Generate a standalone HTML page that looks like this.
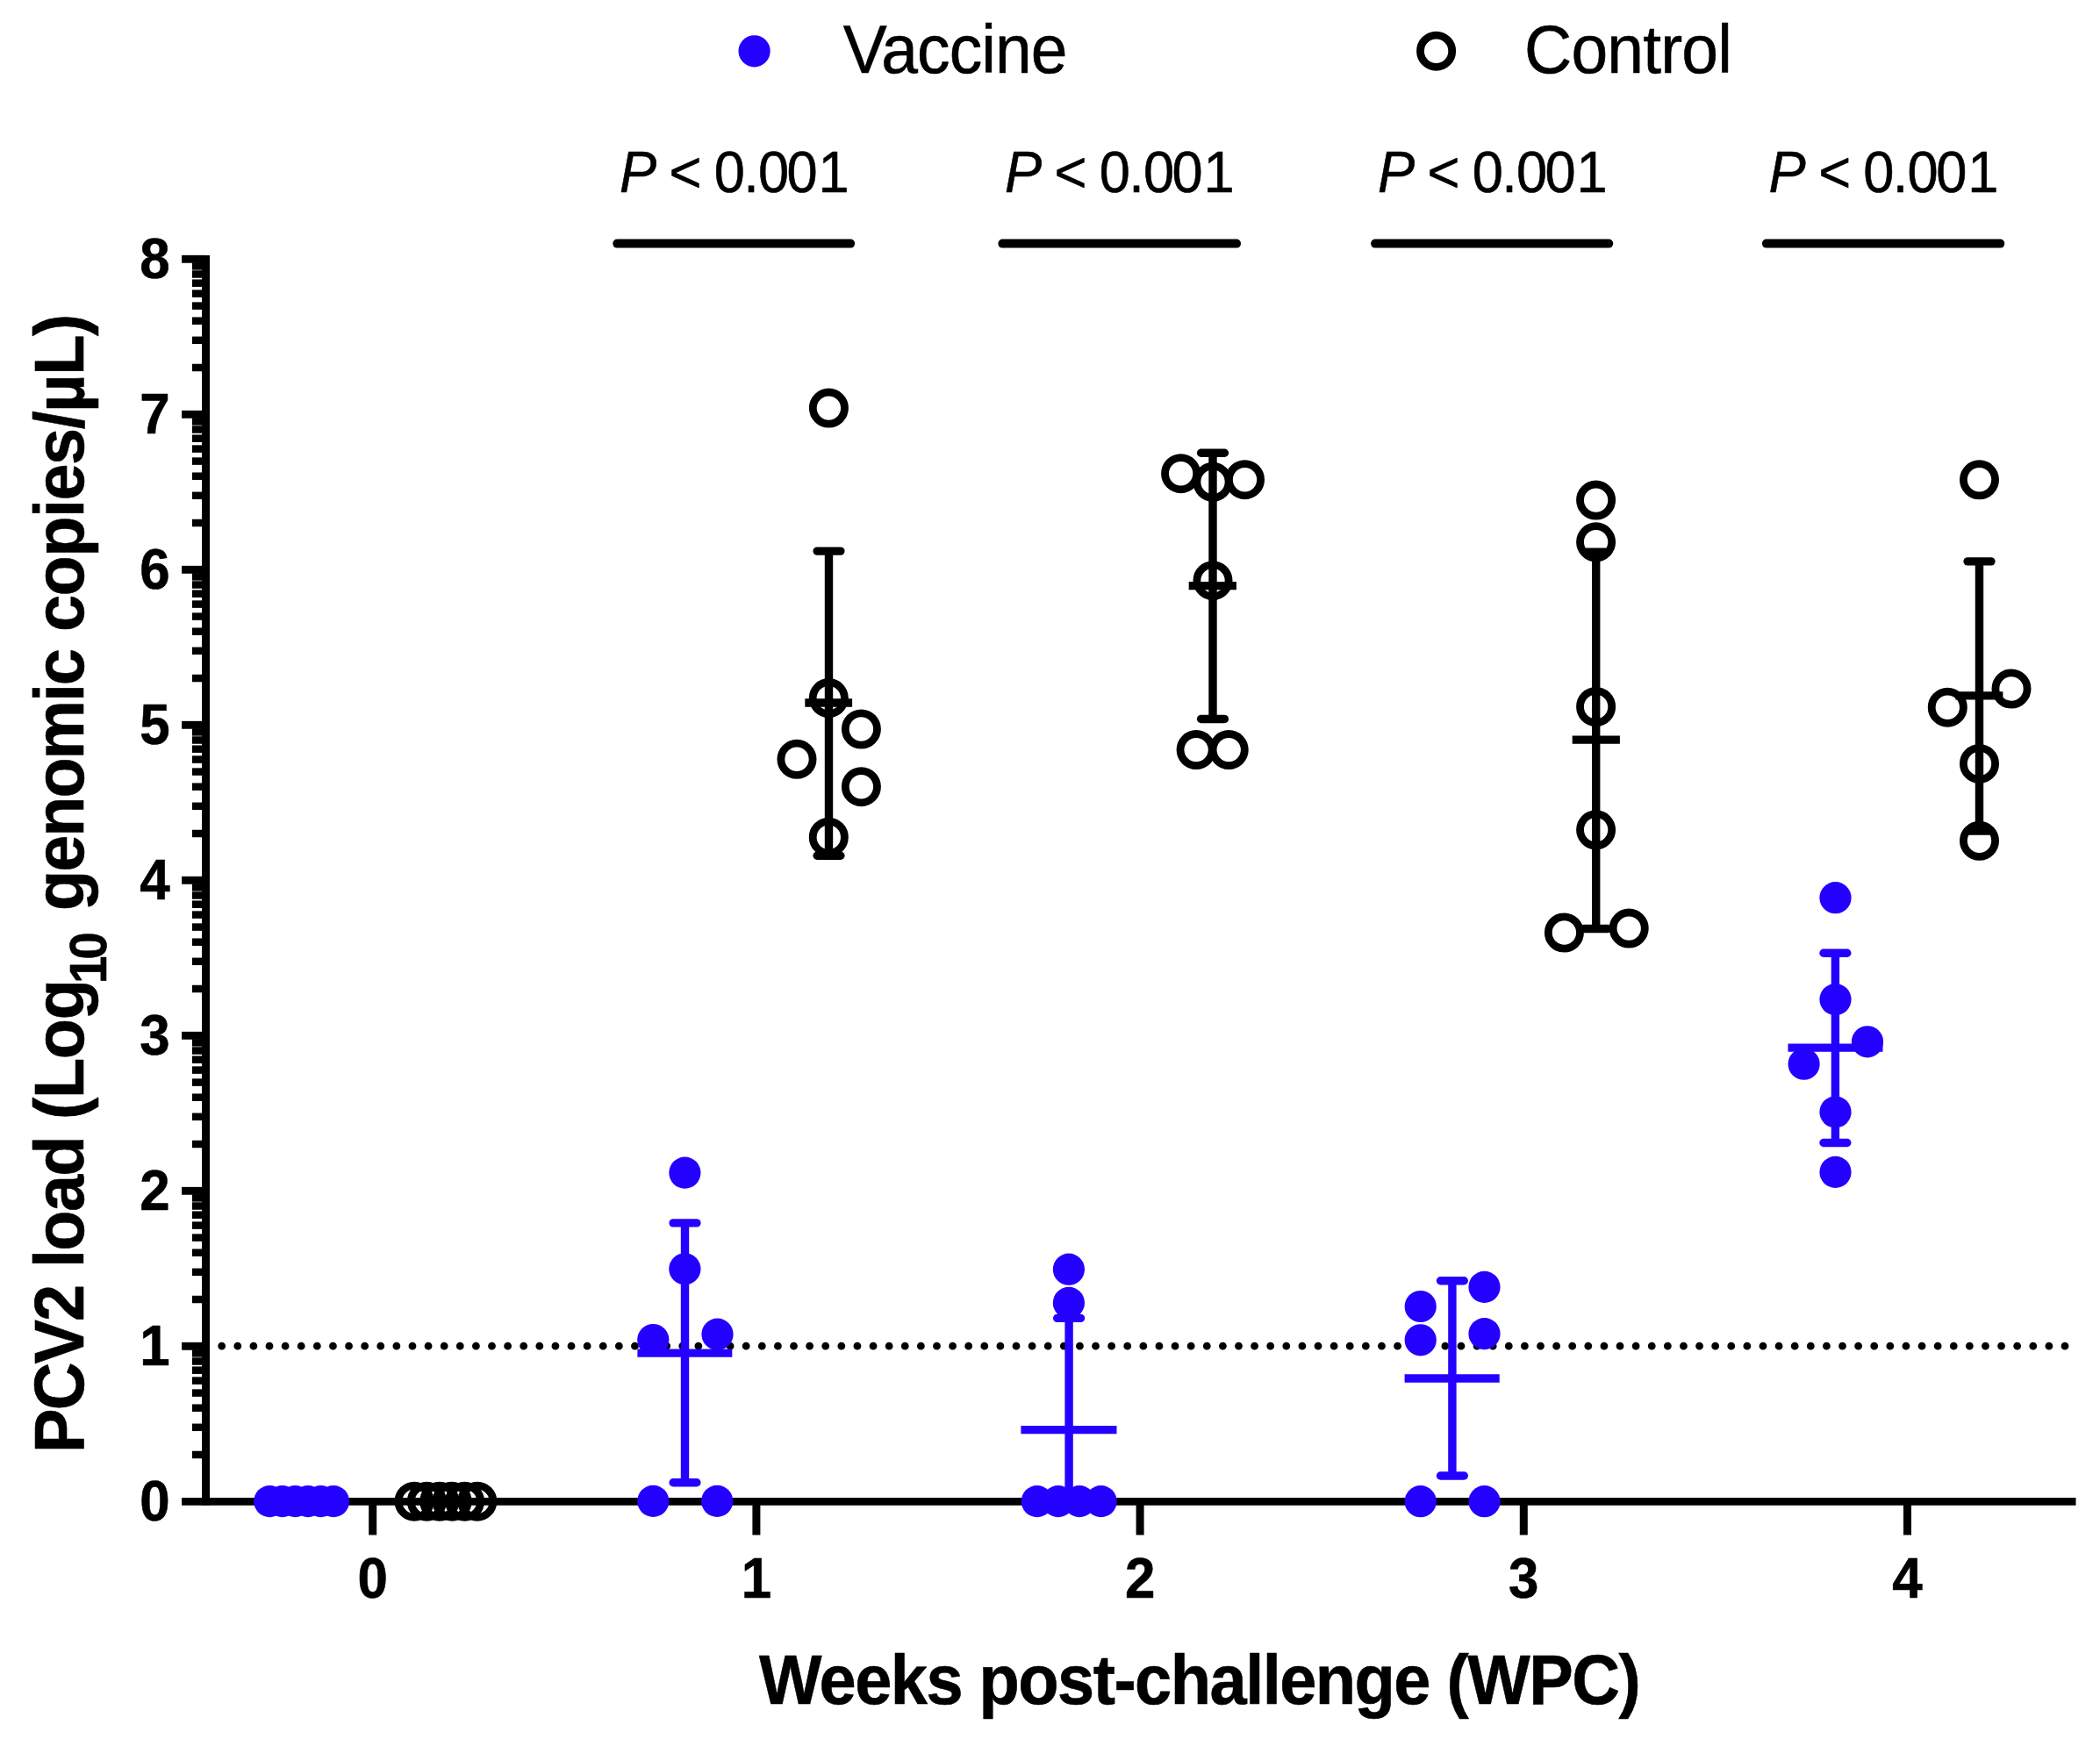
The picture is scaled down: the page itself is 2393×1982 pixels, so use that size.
<!DOCTYPE html>
<html lang="en"><head><meta charset="utf-8"><title>PCV2 load by weeks post-challenge</title>
<style>html,body{margin:0;padding:0;background:#fff}svg{display:block}text{font-family:"Liberation Sans",Arial,Helvetica,sans-serif;fill:#000;stroke:#000;stroke-width:.6px;stroke-linejoin:round}.b{font-weight:bold}</style>
</head><body>
<svg width="2393" height="1982" viewBox="0 0 2393 1982">
<rect width="2393" height="1982" fill="#fff"/>
<line x1="252.7" y1="1534.2" x2="2353.2" y2="1534.2" stroke="#000" stroke-width="8.8" stroke-linecap="round" stroke-dasharray="0 18.106"/>
<g stroke="#000" fill="none">
<line x1="234.5" y1="291.0" x2="234.5" y2="1715.6" stroke-width="9"/>
<line x1="207.1" y1="1711.3" x2="2365.5" y2="1711.3" stroke-width="8.8"/>
<line x1="207.1" y1="1534.3" x2="234.5" y2="1534.3" stroke-width="8.9"/>
<line x1="207.1" y1="1357.3" x2="234.5" y2="1357.3" stroke-width="8.9"/>
<line x1="207.1" y1="1180.3" x2="234.5" y2="1180.3" stroke-width="8.9"/>
<line x1="207.1" y1="1003.3" x2="234.5" y2="1003.3" stroke-width="8.9"/>
<line x1="207.1" y1="826.3" x2="234.5" y2="826.3" stroke-width="8.9"/>
<line x1="207.1" y1="649.3" x2="234.5" y2="649.3" stroke-width="8.9"/>
<line x1="207.1" y1="472.3" x2="234.5" y2="472.3" stroke-width="8.9"/>
<line x1="207.1" y1="295.3" x2="234.5" y2="295.3" stroke-width="8.9"/>
<line x1="218.9" y1="1658.0" x2="234.5" y2="1658.0" stroke-width="8.5"/>
<line x1="218.9" y1="1626.8" x2="234.5" y2="1626.8" stroke-width="8.5"/>
<line x1="218.9" y1="1604.7" x2="234.5" y2="1604.7" stroke-width="8.5"/>
<line x1="218.9" y1="1587.6" x2="234.5" y2="1587.6" stroke-width="8.5"/>
<line x1="218.9" y1="1573.6" x2="234.5" y2="1573.6" stroke-width="8.5"/>
<line x1="218.9" y1="1561.7" x2="234.5" y2="1561.7" stroke-width="8.5"/>
<line x1="218.9" y1="1551.5" x2="234.5" y2="1551.5" stroke-width="8.5"/>
<line x1="218.9" y1="1542.4" x2="234.5" y2="1542.4" stroke-width="8.5"/>
<line x1="218.9" y1="1481.0" x2="234.5" y2="1481.0" stroke-width="8.5"/>
<line x1="218.9" y1="1449.8" x2="234.5" y2="1449.8" stroke-width="8.5"/>
<line x1="218.9" y1="1427.7" x2="234.5" y2="1427.7" stroke-width="8.5"/>
<line x1="218.9" y1="1410.6" x2="234.5" y2="1410.6" stroke-width="8.5"/>
<line x1="218.9" y1="1396.6" x2="234.5" y2="1396.6" stroke-width="8.5"/>
<line x1="218.9" y1="1384.7" x2="234.5" y2="1384.7" stroke-width="8.5"/>
<line x1="218.9" y1="1374.5" x2="234.5" y2="1374.5" stroke-width="8.5"/>
<line x1="218.9" y1="1365.4" x2="234.5" y2="1365.4" stroke-width="8.5"/>
<line x1="218.9" y1="1304.0" x2="234.5" y2="1304.0" stroke-width="8.5"/>
<line x1="218.9" y1="1272.8" x2="234.5" y2="1272.8" stroke-width="8.5"/>
<line x1="218.9" y1="1250.7" x2="234.5" y2="1250.7" stroke-width="8.5"/>
<line x1="218.9" y1="1233.6" x2="234.5" y2="1233.6" stroke-width="8.5"/>
<line x1="218.9" y1="1219.6" x2="234.5" y2="1219.6" stroke-width="8.5"/>
<line x1="218.9" y1="1207.7" x2="234.5" y2="1207.7" stroke-width="8.5"/>
<line x1="218.9" y1="1197.5" x2="234.5" y2="1197.5" stroke-width="8.5"/>
<line x1="218.9" y1="1188.4" x2="234.5" y2="1188.4" stroke-width="8.5"/>
<line x1="218.9" y1="1127.0" x2="234.5" y2="1127.0" stroke-width="8.5"/>
<line x1="218.9" y1="1095.8" x2="234.5" y2="1095.8" stroke-width="8.5"/>
<line x1="218.9" y1="1073.7" x2="234.5" y2="1073.7" stroke-width="8.5"/>
<line x1="218.9" y1="1056.6" x2="234.5" y2="1056.6" stroke-width="8.5"/>
<line x1="218.9" y1="1042.6" x2="234.5" y2="1042.6" stroke-width="8.5"/>
<line x1="218.9" y1="1030.7" x2="234.5" y2="1030.7" stroke-width="8.5"/>
<line x1="218.9" y1="1020.5" x2="234.5" y2="1020.5" stroke-width="8.5"/>
<line x1="218.9" y1="1011.4" x2="234.5" y2="1011.4" stroke-width="8.5"/>
<line x1="218.9" y1="950.0" x2="234.5" y2="950.0" stroke-width="8.5"/>
<line x1="218.9" y1="918.8" x2="234.5" y2="918.8" stroke-width="8.5"/>
<line x1="218.9" y1="896.7" x2="234.5" y2="896.7" stroke-width="8.5"/>
<line x1="218.9" y1="879.6" x2="234.5" y2="879.6" stroke-width="8.5"/>
<line x1="218.9" y1="865.6" x2="234.5" y2="865.6" stroke-width="8.5"/>
<line x1="218.9" y1="853.7" x2="234.5" y2="853.7" stroke-width="8.5"/>
<line x1="218.9" y1="843.5" x2="234.5" y2="843.5" stroke-width="8.5"/>
<line x1="218.9" y1="834.4" x2="234.5" y2="834.4" stroke-width="8.5"/>
<line x1="218.9" y1="773.0" x2="234.5" y2="773.0" stroke-width="8.5"/>
<line x1="218.9" y1="741.8" x2="234.5" y2="741.8" stroke-width="8.5"/>
<line x1="218.9" y1="719.7" x2="234.5" y2="719.7" stroke-width="8.5"/>
<line x1="218.9" y1="702.6" x2="234.5" y2="702.6" stroke-width="8.5"/>
<line x1="218.9" y1="688.6" x2="234.5" y2="688.6" stroke-width="8.5"/>
<line x1="218.9" y1="676.7" x2="234.5" y2="676.7" stroke-width="8.5"/>
<line x1="218.9" y1="666.5" x2="234.5" y2="666.5" stroke-width="8.5"/>
<line x1="218.9" y1="657.4" x2="234.5" y2="657.4" stroke-width="8.5"/>
<line x1="218.9" y1="596.0" x2="234.5" y2="596.0" stroke-width="8.5"/>
<line x1="218.9" y1="564.8" x2="234.5" y2="564.8" stroke-width="8.5"/>
<line x1="218.9" y1="542.7" x2="234.5" y2="542.7" stroke-width="8.5"/>
<line x1="218.9" y1="525.6" x2="234.5" y2="525.6" stroke-width="8.5"/>
<line x1="218.9" y1="511.6" x2="234.5" y2="511.6" stroke-width="8.5"/>
<line x1="218.9" y1="499.7" x2="234.5" y2="499.7" stroke-width="8.5"/>
<line x1="218.9" y1="489.5" x2="234.5" y2="489.5" stroke-width="8.5"/>
<line x1="218.9" y1="480.4" x2="234.5" y2="480.4" stroke-width="8.5"/>
<line x1="218.9" y1="419.0" x2="234.5" y2="419.0" stroke-width="8.5"/>
<line x1="218.9" y1="387.8" x2="234.5" y2="387.8" stroke-width="8.5"/>
<line x1="218.9" y1="365.7" x2="234.5" y2="365.7" stroke-width="8.5"/>
<line x1="218.9" y1="348.6" x2="234.5" y2="348.6" stroke-width="8.5"/>
<line x1="218.9" y1="334.6" x2="234.5" y2="334.6" stroke-width="8.5"/>
<line x1="218.9" y1="322.7" x2="234.5" y2="322.7" stroke-width="8.5"/>
<line x1="218.9" y1="312.5" x2="234.5" y2="312.5" stroke-width="8.5"/>
<line x1="218.9" y1="303.4" x2="234.5" y2="303.4" stroke-width="8.5"/>
<line x1="424.7" y1="1711.3" x2="424.7" y2="1749.5" stroke-width="9"/>
<line x1="861.9" y1="1711.3" x2="861.9" y2="1749.5" stroke-width="9"/>
<line x1="1299.1" y1="1711.3" x2="1299.1" y2="1749.5" stroke-width="9"/>
<line x1="1736.3" y1="1711.3" x2="1736.3" y2="1749.5" stroke-width="9"/>
<line x1="2173.5" y1="1711.3" x2="2173.5" y2="1749.5" stroke-width="9"/>
</g>
<g class="b" font-size="64.4" text-anchor="end">
<text transform="translate(193.6 1732.6) scale(0.961 1)">0</text>
<text transform="translate(193.6 1555.6) scale(0.961 1)">1</text>
<text transform="translate(193.6 1378.6) scale(0.961 1)">2</text>
<text transform="translate(193.6 1201.6) scale(0.961 1)">3</text>
<text transform="translate(193.6 1024.6) scale(0.961 1)">4</text>
<text transform="translate(193.6 847.6) scale(0.961 1)">5</text>
<text transform="translate(193.6 670.6) scale(0.961 1)">6</text>
<text transform="translate(193.6 493.6) scale(0.961 1)">7</text>
<text transform="translate(193.6 316.6) scale(0.961 1)">8</text>
</g>
<g class="b" font-size="64.4" text-anchor="middle">
<text transform="translate(424.7 1820.8) scale(0.961 1)">0</text>
<text transform="translate(861.9 1820.8) scale(0.961 1)">1</text>
<text transform="translate(1299.1 1820.8) scale(0.961 1)">2</text>
<text transform="translate(1736.3 1820.8) scale(0.961 1)">3</text>
<text transform="translate(2173.5 1820.8) scale(0.961 1)">4</text>
</g>
<text class="b" font-size="78.9" letter-spacing="-1.6" transform="translate(864.9 1941.9) scale(0.961 1)">Weeks post-challenge (WPC)</text>
<text class="b" font-size="78.9" transform="translate(94.6 1655.0) rotate(-90) scale(0.961 1)"><tspan x="-1.04" letter-spacing="-2.0">PCV2</tspan> <tspan x="218.52" letter-spacing="-1.8">load</tspan> <tspan x="394.38" letter-spacing="-1.4">(Log</tspan><tspan x="555.67" font-size="59.3" dy="26.4" letter-spacing="-4.6">10</tspan> <tspan x="642.04" dy="-26.4" letter-spacing="-2.2">genomic</tspan> <tspan x="972.94" letter-spacing="-1.65">copies/µL)</tspan></text>
<circle cx="859.6" cy="58.3" r="18.1" fill="#2400FF"/>
<text font-size="78.05" letter-spacing="-0.94" transform="translate(960.7 83.3) scale(0.961 1)">Vaccine</text>
<circle cx="1636.6" cy="58.2" r="18.1" fill="none" stroke="#000" stroke-width="8.8"/>
<text font-size="78.05" letter-spacing="-0.87" transform="translate(1737.1 83.2) scale(0.961 1)">Control</text>
<line x1="703.3" y1="277.6" x2="969.1" y2="277.6" stroke="#000" stroke-width="10" stroke-linecap="round"/>
<text font-size="65.8" transform="translate(706.0 218.5) scale(0.961 1)" x="0.00 0.00 58.90 0.00 112.07 146.93 164.31 198.34 235.80"><tspan font-style="italic">P</tspan> &lt; 0.001</text>
<line x1="1142.4" y1="277.6" x2="1409.0" y2="277.6" stroke="#000" stroke-width="10" stroke-linecap="round"/>
<text font-size="65.8" transform="translate(1145.0 218.5) scale(0.961 1)" x="0.00 0.00 58.90 0.00 112.07 146.93 164.31 198.34 235.80"><tspan font-style="italic">P</tspan> &lt; 0.001</text>
<line x1="1567.1" y1="277.6" x2="1833.2" y2="277.6" stroke="#000" stroke-width="10" stroke-linecap="round"/>
<text font-size="65.8" transform="translate(1570.0 218.5) scale(0.961 1)" x="0.00 0.00 58.90 0.00 112.07 146.93 164.31 198.34 235.80"><tspan font-style="italic">P</tspan> &lt; 0.001</text>
<line x1="2012.9" y1="277.6" x2="2279.3" y2="277.6" stroke="#000" stroke-width="10" stroke-linecap="round"/>
<text font-size="65.8" transform="translate(2015.6 218.5) scale(0.961 1)" x="0.00 0.00 58.90 0.00 112.07 146.93 164.31 198.34 235.80"><tspan font-style="italic">P</tspan> &lt; 0.001</text>
<g fill="none" stroke="#000" stroke-width="8.8"><circle cx="472.1" cy="1711.2" r="18.1"/><circle cx="486.4" cy="1711.2" r="18.1"/><circle cx="500.8" cy="1711.2" r="18.1"/><circle cx="515.1" cy="1711.2" r="18.1"/><circle cx="529.5" cy="1711.2" r="18.1"/><circle cx="543.8" cy="1711.2" r="18.1"/></g>
<g fill="none" stroke="#000" stroke-width="8.8"><circle cx="944.4" cy="465.1" r="18.1"/><circle cx="944.3" cy="795.6" r="18.1"/><circle cx="981.4" cy="831.0" r="18.1"/><circle cx="908.0" cy="865.3" r="18.1"/><circle cx="981.4" cy="896.7" r="18.1"/><circle cx="944.3" cy="954.2" r="18.1"/></g>
<g stroke="#000" stroke-width="9.4" fill="none"><line x1="944.5" y1="628.1" x2="944.5" y2="975.3"/><line x1="931.1" y1="628.1" x2="957.9" y2="628.1" stroke-linecap="round"/><line x1="931.1" y1="975.3" x2="957.9" y2="975.3" stroke-linecap="round"/><line x1="917.3" y1="801.0" x2="971.1" y2="801.0" stroke-width="9.3"/></g>
<g fill="none" stroke="#000" stroke-width="8.8"><circle cx="1345.6" cy="539.7" r="18.1"/><circle cx="1382.0" cy="549.3" r="18.1"/><circle cx="1418.5" cy="546.7" r="18.1"/><circle cx="1382.0" cy="661.7" r="18.1"/><circle cx="1363.1" cy="854.6" r="18.1"/><circle cx="1400.2" cy="854.6" r="18.1"/></g>
<g stroke="#000" stroke-width="9.4" fill="none"><line x1="1382.0" y1="516.2" x2="1382.0" y2="819.5"/><line x1="1368.6" y1="516.2" x2="1395.4" y2="516.2" stroke-linecap="round"/><line x1="1368.6" y1="819.5" x2="1395.4" y2="819.5" stroke-linecap="round"/><line x1="1354.7" y1="667.7" x2="1408.9" y2="667.7" stroke-width="9.3"/></g>
<g fill="none" stroke="#000" stroke-width="8.8"><circle cx="1818.6" cy="570.1" r="18.1"/><circle cx="1818.6" cy="617.8" r="18.1"/><circle cx="1818.6" cy="805.5" r="18.1"/><circle cx="1818.6" cy="945.8" r="18.1"/><circle cx="1782.4" cy="1063.0" r="18.1"/><circle cx="1856.2" cy="1058.1" r="18.1"/></g>
<g stroke="#000" stroke-width="9.4" fill="none"><line x1="1818.7" y1="629.3" x2="1818.7" y2="1058.5"/><line x1="1805.3" y1="629.3" x2="1832.1" y2="629.3" stroke-linecap="round"/><line x1="1805.3" y1="1058.5" x2="1832.1" y2="1058.5" stroke-linecap="round"/><line x1="1791.7" y1="843.1" x2="1845.9" y2="843.1" stroke-width="9.3"/></g>
<g fill="none" stroke="#000" stroke-width="8.8"><circle cx="2255.5" cy="546.8" r="18.1"/><circle cx="2292.0" cy="785.0" r="18.1"/><circle cx="2219.3" cy="806.2" r="18.1"/><circle cx="2255.5" cy="870.4" r="18.1"/><circle cx="2255.5" cy="958.3" r="18.1"/></g>
<g stroke="#000" stroke-width="9.4" fill="none"><line x1="2255.5" y1="639.9" x2="2255.5" y2="947.0"/><line x1="2242.1" y1="639.9" x2="2268.9" y2="639.9" stroke-linecap="round"/><line x1="2242.1" y1="947.0" x2="2268.9" y2="947.0" stroke-linecap="round"/><line x1="2228.4" y1="792.9" x2="2282.4" y2="792.9" stroke-width="9.3"/></g>
<g fill="#2400FF"><circle cx="307.3" cy="1711.1" r="18.1"/><circle cx="321.8" cy="1711.1" r="18.1"/><circle cx="336.4" cy="1711.1" r="18.1"/><circle cx="350.9" cy="1711.1" r="18.1"/><circle cx="365.5" cy="1711.1" r="18.1"/><circle cx="380.0" cy="1711.1" r="18.1"/></g>
<g fill="#2400FF"><circle cx="780.4" cy="1336.6" r="18.1"/><circle cx="780.4" cy="1446.3" r="18.1"/><circle cx="744.3" cy="1527.0" r="18.1"/><circle cx="817.5" cy="1520.7" r="18.1"/><circle cx="744.3" cy="1710.9" r="18.1"/><circle cx="817.2" cy="1710.9" r="18.1"/></g>
<g stroke="#2400FF" stroke-width="9.4" fill="none"><line x1="780.5" y1="1393.9" x2="780.5" y2="1689.7"/><line x1="767.1" y1="1393.9" x2="793.9" y2="1393.9" stroke-linecap="round"/><line x1="767.1" y1="1689.7" x2="793.9" y2="1689.7" stroke-linecap="round"/><line x1="726.4" y1="1542.1" x2="834.3" y2="1542.1" stroke-width="9.3"/></g>
<g fill="#2400FF"><circle cx="1217.9" cy="1446.7" r="18.1"/><circle cx="1217.9" cy="1484.9" r="18.1"/><circle cx="1181.8" cy="1711.1" r="18.1"/><circle cx="1205.8" cy="1711.1" r="18.1"/><circle cx="1230.1" cy="1711.1" r="18.1"/><circle cx="1254.6" cy="1711.1" r="18.1"/></g>
<g stroke="#2400FF" stroke-width="9.4" fill="none"><line x1="1218.1" y1="1502.4" x2="1218.1" y2="1711.0"/><line x1="1204.7" y1="1502.4" x2="1231.5" y2="1502.4" stroke-linecap="round"/><line x1="1163.4" y1="1629.6" x2="1272.5" y2="1629.6" stroke-width="9.3"/></g>
<g fill="#2400FF"><circle cx="1618.7" cy="1489.0" r="18.1"/><circle cx="1691.5" cy="1466.9" r="18.1"/><circle cx="1618.7" cy="1527.3" r="18.1"/><circle cx="1691.5" cy="1520.1" r="18.1"/><circle cx="1618.7" cy="1711.2" r="18.1"/><circle cx="1691.5" cy="1711.2" r="18.1"/></g>
<g stroke="#2400FF" stroke-width="9.4" fill="none"><line x1="1654.9" y1="1459.8" x2="1654.9" y2="1682.0"/><line x1="1641.5" y1="1459.8" x2="1668.3" y2="1459.8" stroke-linecap="round"/><line x1="1641.5" y1="1682.0" x2="1668.3" y2="1682.0" stroke-linecap="round"/><line x1="1600.6" y1="1571.0" x2="1708.7" y2="1571.0" stroke-width="9.3"/></g>
<g fill="#2400FF"><circle cx="2091.5" cy="1023.2" r="18.1"/><circle cx="2091.5" cy="1139.1" r="18.1"/><circle cx="2128.0" cy="1187.3" r="18.1"/><circle cx="2055.6" cy="1212.7" r="18.1"/><circle cx="2091.5" cy="1267.4" r="18.1"/><circle cx="2091.5" cy="1335.9" r="18.1"/></g>
<g stroke="#2400FF" stroke-width="9.4" fill="none"><line x1="2091.4" y1="1086.2" x2="2091.4" y2="1302.5"/><line x1="2078.0" y1="1086.2" x2="2104.8" y2="1086.2" stroke-linecap="round"/><line x1="2078.0" y1="1302.5" x2="2104.8" y2="1302.5" stroke-linecap="round"/><line x1="2037.5" y1="1194.2" x2="2145.5" y2="1194.2" stroke-width="9.3"/></g>
</svg></body></html>
